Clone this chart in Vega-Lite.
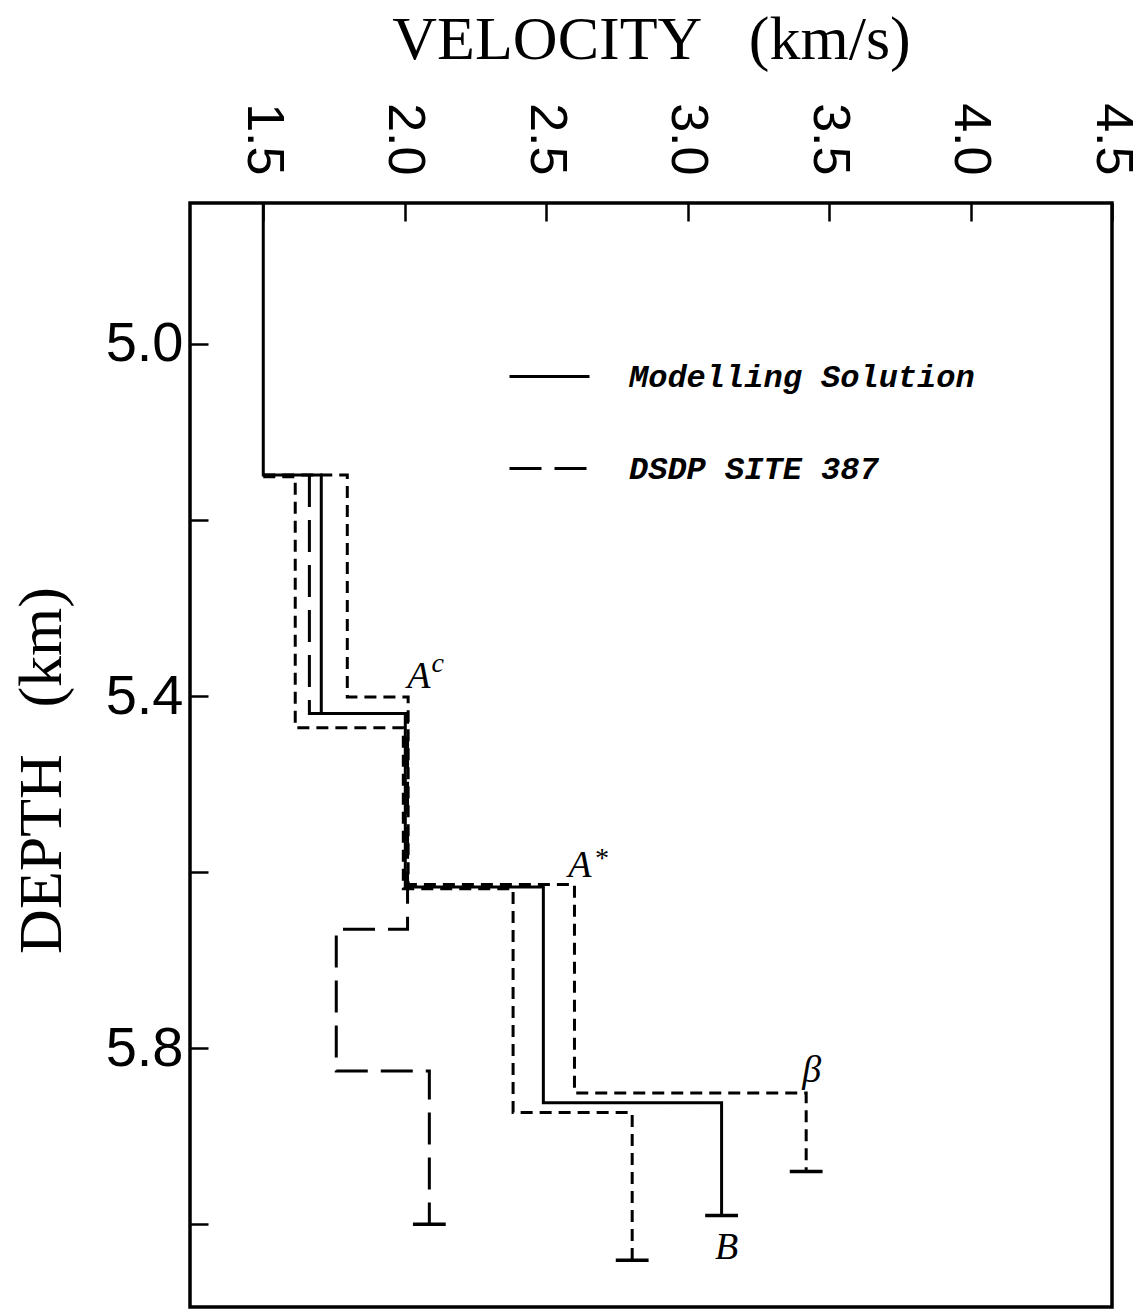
{
  "$schema": "https://vega.github.io/schema/vega-lite/v6.json",
  "width": 922,
  "height": 1104,
  "autosize": {"type": "none"},
  "padding": {"left": 190, "top": 203, "right": 31, "bottom": 3},
  "background": "white",
  "config": {
    "view": {"stroke": "black", "strokeWidth": 3.5},
    "font": "Liberation Serif"
  },
  "datasets": {
    "profiles": [
      {"type": "Modelling Solution", "line": "model", "ord": 1, "v": 1.5, "d": 4.84},
      {"type": "Modelling Solution", "line": "model", "ord": 2, "v": 1.5, "d": 5.149},
      {"type": "Modelling Solution", "line": "model", "ord": 3, "v": 1.705, "d": 5.149},
      {"type": "Modelling Solution", "line": "model", "ord": 4, "v": 1.705, "d": 5.42},
      {"type": "Modelling Solution", "line": "model", "ord": 5, "v": 2.002, "d": 5.42},
      {"type": "Modelling Solution", "line": "model", "ord": 6, "v": 2.002, "d": 5.617},
      {"type": "Modelling Solution", "line": "model", "ord": 7, "v": 2.49, "d": 5.617},
      {"type": "Modelling Solution", "line": "model", "ord": 8, "v": 2.49, "d": 5.862},
      {"type": "Modelling Solution", "line": "model", "ord": 9, "v": 3.12, "d": 5.862},
      {"type": "Modelling Solution", "line": "model", "ord": 10, "v": 3.12, "d": 5.99},
      {"type": "Bounds", "line": "hi", "ord": 1, "v": 1.5, "d": 5.149},
      {"type": "Bounds", "line": "hi", "ord": 2, "v": 1.797, "d": 5.149},
      {"type": "Bounds", "line": "hi", "ord": 3, "v": 1.797, "d": 5.401},
      {"type": "Bounds", "line": "hi", "ord": 4, "v": 2.012, "d": 5.401},
      {"type": "Bounds", "line": "hi", "ord": 5, "v": 2.012, "d": 5.614},
      {"type": "Bounds", "line": "hi", "ord": 6, "v": 2.6, "d": 5.614},
      {"type": "Bounds", "line": "hi", "ord": 7, "v": 2.6, "d": 5.851},
      {"type": "Bounds", "line": "hi", "ord": 8, "v": 3.419, "d": 5.851},
      {"type": "Bounds", "line": "hi", "ord": 9, "v": 3.419, "d": 5.94},
      {"type": "Bounds", "line": "lo", "ord": 1, "v": 1.5, "d": 5.151},
      {"type": "Bounds", "line": "lo", "ord": 2, "v": 1.613, "d": 5.151},
      {"type": "Bounds", "line": "lo", "ord": 3, "v": 1.613, "d": 5.436},
      {"type": "Bounds", "line": "lo", "ord": 4, "v": 1.995, "d": 5.436},
      {"type": "Bounds", "line": "lo", "ord": 5, "v": 1.995, "d": 5.619},
      {"type": "Bounds", "line": "lo", "ord": 6, "v": 2.383, "d": 5.619},
      {"type": "Bounds", "line": "lo", "ord": 7, "v": 2.383, "d": 5.873},
      {"type": "Bounds", "line": "lo", "ord": 8, "v": 2.804, "d": 5.873},
      {"type": "Bounds", "line": "lo", "ord": 9, "v": 2.804, "d": 6.041},
      {"type": "DSDP SITE 387", "line": "dsdp", "ord": 1, "v": 1.663, "d": 5.149},
      {"type": "DSDP SITE 387", "line": "dsdp", "ord": 2, "v": 1.663, "d": 5.42},
      {"type": "DSDP SITE 387", "line": "dsdp", "ord": 3, "v": 2.01, "d": 5.42},
      {"type": "DSDP SITE 387", "line": "dsdp", "ord": 4, "v": 2.01, "d": 5.665},
      {"type": "DSDP SITE 387", "line": "dsdp", "ord": 5, "v": 1.758, "d": 5.665},
      {"type": "DSDP SITE 387", "line": "dsdp", "ord": 6, "v": 1.758, "d": 5.826},
      {"type": "DSDP SITE 387", "line": "dsdp", "ord": 7, "v": 2.087, "d": 5.826},
      {"type": "DSDP SITE 387", "line": "dsdp", "ord": 8, "v": 2.087, "d": 6.0}
    ],
    "caps": [
      {"line": "model", "v": 3.062, "v2": 3.178, "d": 5.99},
      {"line": "hi", "v": 3.361, "v2": 3.477, "d": 5.94},
      {"line": "lo", "v": 2.746, "v2": 2.862, "d": 6.041},
      {"line": "dsdp", "v": 2.029, "v2": 2.145, "d": 6.0}
    ],
    "labels": [
      {"label": "A", "v": 2.009, "d": 5.391},
      {"label": "A", "v": 2.578, "d": 5.606},
      {"label": "β", "v": 3.405, "d": 5.838},
      {"label": "B", "v": 3.097, "d": 6.039}
    ],
    "sups": [
      {"label": "c", "v": 2.095, "d": 5.373},
      {"label": "*", "v": 2.668, "d": 5.594}
    ]
  },
  "layer": [
    {
      "data": {"name": "profiles"},
      "mark": {"type": "line", "color": "black", "strokeWidth": 3, "strokeCap": "butt"},
      "encoding": {
        "x": {
          "field": "v",
          "type": "quantitative",
          "scale": {"domain": [1.241, 4.5], "nice": false, "zero": false},
          "axis": {
            "orient": "top",
            "values": [1.5, 2.0, 2.5, 3.0, 3.5, 4.0, 4.5],
            "format": ".1f",
            "grid": false,
            "domain": false,
            "labelAngle": 90,
            "labelAlign": "right",
            "labelBaseline": "middle",
            "labelFont": "Liberation Sans",
            "labelFontSize": 52,
            "labelColor": "black",
            "labelPadding": 46,
            "labelFlush": false,
            "labelOverlap": false,
            "tickSize": -18,
            "tickWidth": 2.5,
            "tickColor": "black",
            "title": "VELOCITY\u00a0\u00a0\u00a0(km/s)",
            "titleFont": "Liberation Serif",
            "titleFontSize": 62,
            "titleFontWeight": "normal",
            "titleColor": "black",
            "titleX": 461,
            "titleY": -145,
            "titleAlign": "center",
            "titleBaseline": "alphabetic"
          }
        },
        "y": {
          "field": "d",
          "type": "quantitative",
          "scale": {"domain": [4.84, 6.094], "reverse": true, "nice": false, "zero": false},
          "axis": {
            "orient": "left",
            "values": [5.0, 5.2, 5.4, 5.6, 5.8, 6.0],
            "labelExpr": "(abs(datum.value-5)<0.01 || abs(datum.value-5.4)<0.01 || abs(datum.value-5.8)<0.01) ? format(datum.value, '.1f') : ''",
            "grid": false,
            "domain": false,
            "labelFont": "Liberation Sans",
            "labelFontSize": 56,
            "labelColor": "black",
            "labelAlign": "right",
            "labelBaseline": "middle",
            "labelPadding": 25,
            "labelFlush": false,
            "labelOverlap": false,
            "tickSize": -18,
            "tickWidth": 2.5,
            "tickColor": "black",
            "title": "DEPTH\u00a0\u00a0\u00a0(km)",
            "titleFont": "Liberation Serif",
            "titleFontSize": 62,
            "titleFontWeight": "normal",
            "titleColor": "black",
            "titleAngle": -90,
            "titleX": -130,
            "titleY": 567,
            "titleAlign": "center",
            "titleBaseline": "alphabetic"
          }
        },
        "strokeDash": {
          "field": "type",
          "type": "nominal",
          "scale": {
            "domain": ["Modelling Solution", "DSDP SITE 387", "Bounds"],
            "range": [[1, 0], [32, 13], [12, 7]]
          },
          "legend": {
            "values": ["Modelling Solution", "DSDP SITE 387"],
            "orient": "none",
            "legendX": 318,
            "legendY": 132,
            "title": null,
            "padding": 0,
            "symbolType": "stroke",
            "symbolSize": 6400,
            "symbolStrokeWidth": 3,
            "symbolStrokeColor": "black",
            "labelFont": "Liberation Mono",
            "labelFontSize": 32,
            "labelFontStyle": "italic",
            "labelFontWeight": "bold",
            "labelColor": "black",
            "labelOffset": 38,
            "labelLimit": 0,
            "rowPadding": 34
          }
        },
        "detail": {"field": "line", "type": "nominal"},
        "order": {"field": "ord", "type": "quantitative"}
      }
    },
    {
      "data": {"name": "caps"},
      "mark": {"type": "rule", "color": "black", "strokeWidth": 3.5},
      "encoding": {
        "x": {"field": "v", "type": "quantitative"},
        "x2": {"field": "v2"},
        "y": {"field": "d", "type": "quantitative"}
      }
    },
    {
      "data": {"name": "labels"},
      "mark": {"type": "text", "font": "Liberation Serif", "fontStyle": "italic", "fontSize": 38, "align": "left", "baseline": "alphabetic", "color": "black"},
      "encoding": {
        "x": {"field": "v", "type": "quantitative"},
        "y": {"field": "d", "type": "quantitative"},
        "text": {"field": "label"}
      }
    },
    {
      "data": {"name": "sups"},
      "mark": {"type": "text", "font": "Liberation Serif", "fontStyle": "italic", "fontSize": 28, "align": "left", "baseline": "alphabetic", "color": "black"},
      "encoding": {
        "x": {"field": "v", "type": "quantitative"},
        "y": {"field": "d", "type": "quantitative"},
        "text": {"field": "label"}
      }
    }
  ]
}
